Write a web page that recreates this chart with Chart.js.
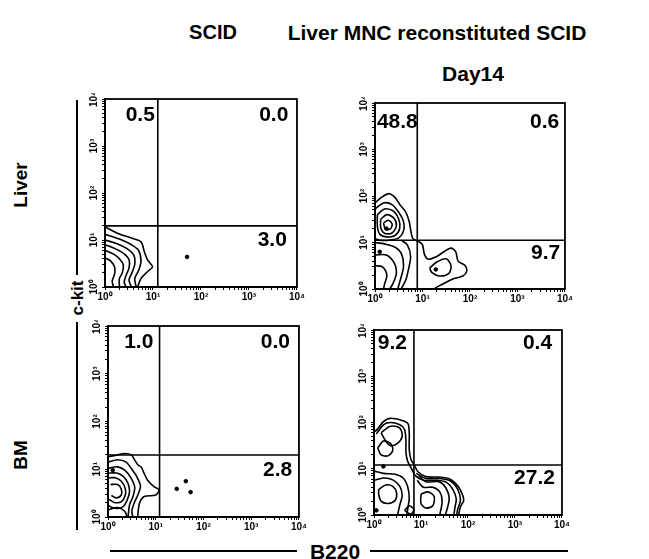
<!DOCTYPE html>
<html><head><meta charset="utf-8">
<script src="https://cdn.jsdelivr.net/npm/chart.js@4.4.1/dist/chart.umd.min.js"></script>
<style>
html,body{margin:0;padding:0;background:#fff;}
body{width:649px;height:559px;position:relative;overflow:hidden;font-family:"Liberation Sans",Arial,sans-serif;font-weight:bold;color:#000;}
canvas{position:absolute;}
.t{position:absolute;white-space:nowrap;line-height:1;transform:translate(-50%,-50%);}
.r{transform:translate(-50%,-50%) rotate(-90deg);}
.ln{position:absolute;background:#000;}
</style></head><body>
<div class="t" style="left:213px;top:32px;font-size:20px">SCID</div>
<div class="t" style="left:437px;top:32px;font-size:21px">Liver MNC reconstituted SCID</div>
<div class="t" style="left:473px;top:73px;font-size:21px">Day14</div>
<div class="t r" style="left:20px;top:185px;font-size:19px">Liver</div>
<div class="t r" style="left:20px;top:455px;font-size:19px">BM</div>
<div class="t r" style="left:77px;top:298px;font-size:17px">c-kit</div>
<div class="t" style="left:335px;top:551px;font-size:21px">B220</div>
<div class="ln" style="left:76px;top:100px;width:2px;height:175px"></div>
<div class="ln" style="left:76px;top:322px;width:2px;height:208px"></div>
<div class="ln" style="left:110px;top:550px;width:187px;height:2px"></div>
<div class="ln" style="left:370px;top:550px;width:198px;height:2px"></div>
<canvas id="c0"></canvas><canvas id="c1"></canvas><canvas id="c2"></canvas><canvas id="c3"></canvas>
<script>
// ---- data ----
const tickLabels = ['10\u2070','10\u00B9','10\u00B2','10\u00B3','10\u2074'];
const gateX = [1.1, 0.89, 1.08, 0.85];
const gateY = [1.3, 1.05, 1.3, 1.08];
const quadValues = [['0.5','0.0','3.0'],['48.8','0.6','9.7'],['1.0','0.0','2.8'],['9.2','0.4','27.2']];

const contoursTL = [
 [[0,1.28],[0.27,1.14],[0.55,1.04],[0.75,0.96],[0.82,0.75],[0.89,0.57],[0.99,0.43],[0.89,0.33],[0.75,0.18],[0.68,0]],
 [[0,1.12],[0.3,1.02],[0.55,0.9],[0.7,0.78],[0.75,0.55],[0.7,0.35],[0.62,0.18],[0.65,0]],
 [[0,1.0],[0.25,0.92],[0.45,0.82],[0.6,0.68],[0.62,0.48],[0.56,0.3],[0.5,0.15],[0.55,0]],
 [[0,0.9],[0.2,0.82],[0.38,0.72],[0.5,0.58],[0.5,0.4],[0.44,0.25],[0.4,0.1],[0.44,0]],
 [[0,0.78],[0.18,0.7],[0.3,0.6],[0.38,0.47],[0.36,0.3],[0.3,0.18],[0.3,0]],
 [[0,0.62],[0.12,0.55],[0.2,0.42],[0.2,0.28],[0.15,0.12],[0.18,0]]
];
const dotsTL = [[1.71,0.64]];

const contoursTR = [
 [[0,1.85],[0.15,1.98],[0.3,2.05],[0.42,1.97],[0.52,1.82],[0.65,1.65],[0.72,1.45],[0.76,1.22],[0.8,1.08],[0.92,1.02],[1.0,0.95],[1.04,0.75],[1.12,0.64],[1.3,0.7],[1.45,0.8],[1.6,0.88],[1.7,0.8],[1.75,0.6],[1.9,0.5],[1.93,0.38],[1.85,0.28],[1.65,0.22],[1.45,0.12],[1.3,0.04],[1.25,0]],
 [[0,1.72],[0.18,1.85],[0.35,1.82],[0.5,1.65],[0.6,1.45],[0.6,1.25],[0.5,1.1],[0.3,1.05],[0.1,1.05],[0,1.08]],
 [[0.05,1.6],[0.2,1.72],[0.38,1.68],[0.5,1.5],[0.52,1.3],[0.42,1.15],[0.25,1.12],[0.1,1.18],[0.05,1.35],[0.05,1.6]],
 [[0.12,1.5],[0.25,1.6],[0.4,1.52],[0.45,1.35],[0.35,1.2],[0.2,1.2],[0.12,1.32],[0.12,1.5]],
 [[0.18,1.42],[0.28,1.48],[0.36,1.4],[0.33,1.3],[0.22,1.28],[0.18,1.42]],
 [[0.55,1.05],[0.68,0.95],[0.75,0.7],[0.7,0.4],[0.65,0.2],[0.55,0]],
 [[0,1.0],[0.2,0.97],[0.42,0.9],[0.56,0.75],[0.6,0.48],[0.54,0.22],[0.48,0]],
 [[0,0.73],[0.24,0.73],[0.41,0.55],[0.45,0.34],[0.38,0.12],[0.31,0]],
 [[0,0.5],[0.15,0.48],[0.25,0.3],[0.2,0.1],[0.18,0]],
 [[1.15,0.45],[1.3,0.58],[1.5,0.65],[1.6,0.5],[1.55,0.33],[1.35,0.28],[1.2,0.35],[1.15,0.45]]
];
const dotsTR = [[0.24,1.3],[0.1,0.8],[1.28,0.42]];

const contoursBL = [
 [[0,1.26],[0.2,1.3],[0.35,1.33],[0.49,1.3],[0.56,1.19],[0.62,1.1],[0.7,1.04],[0.74,0.95],[0.83,0.77],[0.97,0.63],[1.07,0.57],[1.0,0.46],[0.76,0.43],[0.66,0.29],[0.62,0]],
 [[0,1.15],[0.2,1.2],[0.38,1.15],[0.5,1.0],[0.6,0.85],[0.68,0.65],[0.62,0.45],[0.55,0.3],[0.5,0.12],[0.52,0]],
 [[0,1.02],[0.2,1.05],[0.35,0.98],[0.48,0.82],[0.56,0.62],[0.52,0.42],[0.45,0.25],[0.42,0]],
 [[0,0.92],[0.18,0.92],[0.32,0.85],[0.42,0.7],[0.45,0.52],[0.4,0.35],[0.32,0.22],[0.2,0.18],[0.08,0.2],[0,0.25]],
 [[0,0.82],[0.15,0.82],[0.28,0.75],[0.36,0.6],[0.36,0.45],[0.28,0.32],[0.15,0.3],[0.05,0.35],[0,0.38]],
 [[0.05,0.68],[0.2,0.68],[0.28,0.58],[0.27,0.45],[0.17,0.4],[0.07,0.45]],
 [[0,0.15],[0.2,0.2],[0.35,0.12],[0.4,0]]
];
const dotsBL = [[1.63,0.75],[1.44,0.59],[1.73,0.52],[0.1,0.98]];

const contoursBR = [
 [[0,1.8],[0.06,1.84],[0.2,2.02],[0.34,2.09],[0.58,2.05],[0.72,1.98],[0.75,1.77],[0.75,1.41],[0.79,1.19],[0.86,1.08],[0.93,0.94],[1.1,0.83],[1.38,0.82],[1.59,0.79],[1.73,0.69],[1.84,0.54],[1.91,0.32],[1.84,0.18],[1.8,0]],
 [[0.05,1.75],[0.2,1.95],[0.35,2.0],[0.55,1.95],[0.65,1.85],[0.68,1.6],[0.68,1.35],[0.72,1.15],[0.8,1.0],[0.88,0.85],[1.05,0.75],[1.35,0.75],[1.55,0.7],[1.68,0.55],[1.75,0.35],[1.72,0.15],[1.7,0]],
 [[0.15,1.78],[0.35,1.92],[0.55,1.88],[0.6,1.7],[0.5,1.55],[0.35,1.5],[0.25,1.6],[0.15,1.78]],
 [[0.08,1.45],[0.2,1.6],[0.35,1.55],[0.4,1.4],[0.3,1.28],[0.15,1.3],[0.08,1.45]],
 [[0.9,0.9],[1.1,0.79],[1.4,0.79],[1.62,0.74],[1.78,0.56],[1.84,0.32],[1.78,0.12],[1.76,0]],
 [[0.95,0.85],[1.1,0.72],[1.38,0.72],[1.52,0.6],[1.6,0.35],[1.52,0]],
 [[0.92,0.75],[1.05,0.6],[1.25,0.6],[1.4,0.5],[1.45,0.3],[1.4,0]],
 [[1.0,0.45],[1.15,0.5],[1.28,0.4],[1.25,0.2],[1.1,0.15],[1.0,0.25],[1.0,0.45]],
 [[0,0.95],[0.2,0.9],[0.45,0.88],[0.62,0.8],[0.72,0.6],[0.75,0.35],[0.72,0.15],[0.7,0]],
 [[0,0.75],[0.2,0.8],[0.4,0.76],[0.55,0.62],[0.6,0.42],[0.55,0.22],[0.5,0]],
 [[0.1,0.55],[0.25,0.65],[0.4,0.62],[0.48,0.48],[0.45,0.32],[0.3,0.25],[0.15,0.3],[0.1,0.45],[0.1,0.55]],
 [[0.65,0.1],[0.75,0.2],[0.85,0.12],[0.78,0.02],[0.65,0.1]]
];
const dotsBR = [[0.2,1.05],[0.05,0.1]];

// ---- layout ----
const panelContours = [contoursTL, contoursTR, contoursBL, contoursBR];
const panelDots = [dotsTL, dotsTR, dotsBL, dotsBR];
const panelBoxes = [
 {left:83, top:93, w:223, h:212},
 {left:353, top:97, w:221, h:210},
 {left:86, top:320, w:222, h:215},
 {left:352, top:324, w:219, h:209}
];
const quadAnchors = [
 [[0.43,3.66,'left'],[3.82,3.66,'right'],[3.79,1.0,'right']],
 [[0.04,3.59,'left'],[3.88,3.59,'right'],[3.90,0.77,'right']],
 [[0.95,3.66,'right'],[3.81,3.66,'right'],[3.86,0.98,'right']],
 [[0.08,3.72,'left'],[3.79,3.72,'right'],[3.85,0.80,'right']]
];
const FONT = '"Liberation Sans", Arial, sans-serif';

const framePlugin = {
 id:'frame',
 afterDatasetsDraw(chart, args, opts){
  const {ctx, chartArea:a, scales} = chart;
  ctx.save();
  ctx.strokeStyle='#000'; ctx.lineWidth=1.8;
  ctx.strokeRect(a.left, a.top, a.right-a.left, a.bottom-a.top);
  ctx.font = 'bold 21px ' + FONT; ctx.fillStyle='#000'; ctx.textBaseline='middle';
  (opts.labels||[]).forEach(l=>{
    ctx.textAlign = l.align;
    ctx.fillText(l.text, scales.x.getPixelForValue(l.x), scales.y.getPixelForValue(l.y));
  });
  ctx.restore();
 }
};

function logTicks(scale){
  const t=[];
  for(let n=0;n<4;n++) for(let k=1;k<10;k++) t.push({value:n+Math.log10(k)});
  t.push({value:4});
  scale.ticks = t;
}
function tickCb(v){ const r=Math.round(v); return Math.abs(v-r)<1e-6 ? tickLabels[r] : ''; }

for(let p=0;p<4;p++){
  const b = panelBoxes[p];
  const cv = document.getElementById('c'+p);
  cv.style.left=b.left+'px'; cv.style.top=b.top+'px';
  cv.width=b.w; cv.height=b.h; cv.style.width=b.w+'px'; cv.style.height=b.h+'px';
  const datasets = [];
  panelContours[p].forEach(c=>datasets.push({
    type:'line', data:c.map(q=>({x:q[0],y:q[1]})), borderColor:'#000', borderWidth:1.6,
    pointRadius:0, tension:0.3, fill:false
  }));
  datasets.push({type:'line', data:[{x:gateX[p],y:0},{x:gateX[p],y:4}], borderColor:'#000', borderWidth:1.6, pointRadius:0, tension:0});
  datasets.push({type:'line', data:[{x:0,y:gateY[p]},{x:4,y:gateY[p]}], borderColor:'#000', borderWidth:1.6, pointRadius:0, tension:0});
  datasets.push({type:'scatter', data:panelDots[p].map(q=>({x:q[0],y:q[1]})), backgroundColor:'#000', borderColor:'#000', pointRadius:1.8});
  const labels = quadValues[p].map((t,i)=>({text:t, x:quadAnchors[p][i][0], y:quadAnchors[p][i][1], align:quadAnchors[p][i][2]}));
  new Chart(cv, {
    type:'line',
    data:{datasets},
    options:{
      responsive:false, animation:false, devicePixelRatio:1,
      layout:{padding:{top:6,right:6,left:0,bottom:0}},
      plugins:{legend:{display:false}, tooltip:{enabled:false}, frame:{labels}},
      scales:{
        x:{type:'linear', min:0, max:4, afterBuildTicks:logTicks, afterFit:s=>{s.height=18;},
           grid:{drawOnChartArea:false, drawTicks:true, tickLength:3, color:'#000', lineWidth:1},
           border:{display:true, color:'#000', width:2},
           ticks:{autoSkip:false, maxRotation:0, minRotation:0, padding:1, color:'#000', font:{family:FONT, size:10, weight:'bold'}, callback:tickCb}},
        y:{type:'linear', min:0, max:4, afterBuildTicks:logTicks, afterFit:s=>{s.width=22;},
           grid:{drawOnChartArea:false, drawTicks:true, tickLength:3, color:'#000', lineWidth:1},
           border:{display:true, color:'#000', width:2},
           ticks:{autoSkip:false, minRotation:90, maxRotation:90, crossAlign:'center', padding:0, color:'#000', font:{family:FONT, size:10, weight:'bold'}, callback:tickCb}}
      }
    },
    plugins:[framePlugin]
  });
}
</script>
</body></html>
